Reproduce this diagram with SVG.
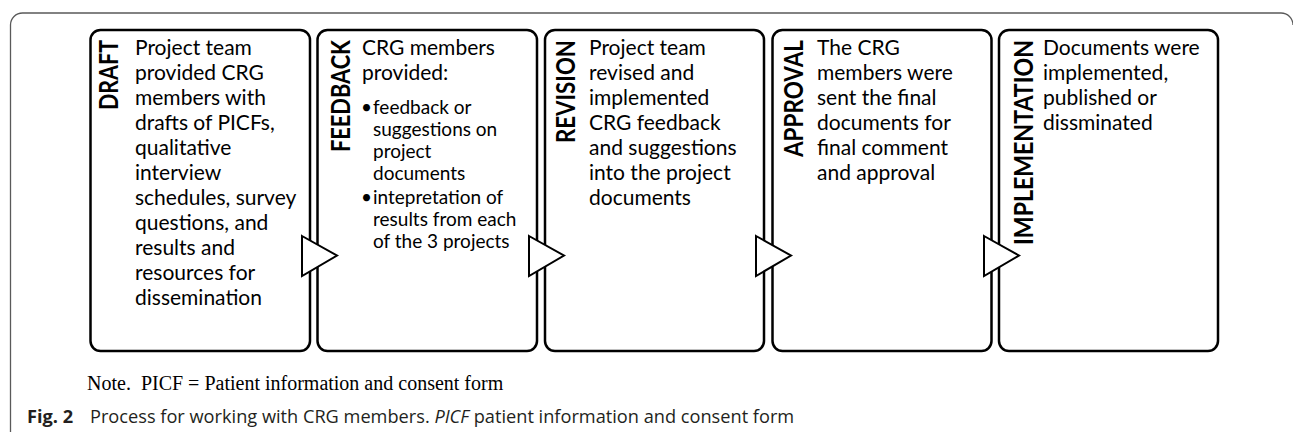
<svg xmlns="http://www.w3.org/2000/svg" width="1293" height="432" viewBox="0 0 1293 432">
  <style>
    .box { fill: #ffffff; stroke: #000000; stroke-width: 2.5; }
    .arrow { fill: #ffffff; stroke: #000000; stroke-width: 2; stroke-linejoin: miter; }
    .label { font-family: Lato, "Open Sans", sans-serif; font-weight: 700; font-size: 26px; fill: #000000; }
    .body { font-family: Lato, "Open Sans", sans-serif; font-size: 21px; fill: #000000; }
    .bullet { font-family: Lato, "Open Sans", sans-serif; font-size: 19px; fill: #000000; }
    .note { font-family: "Liberation Serif", serif; font-size: 20px; fill: #000000; }
    .caption { font-family: "Open Sans", "Liberation Sans", sans-serif; font-size: 18.2px; fill: #231f20; }
  </style>

  <!-- outer panel frame -->
  <path d="M10.5,432 V25 A12,12 0 0 1 22.5,13 H1281 A12,12 0 0 1 1293,25" fill="none" stroke="#5a5a5a" stroke-width="1.3"/>

  <!-- step boxes -->
  <g id="draft">
    <rect class="box" x="90.5" y="30" width="219.5" height="321" rx="10"/>
    <text class="label" transform="translate(118,40) rotate(-90)" text-anchor="end" textLength="70" lengthAdjust="spacingAndGlyphs">DRAFT</text>
    <text class="body">
      <tspan x="135" y="55">Project team</tspan>
      <tspan x="135" y="80">provided CRG</tspan>
      <tspan x="135" y="105">members with</tspan>
      <tspan x="135" y="130">drafts of PICFs,</tspan>
      <tspan x="135" y="155">qualitative</tspan>
      <tspan x="135" y="180">interview</tspan>
      <tspan x="135" y="205">schedules, survey</tspan>
      <tspan x="135" y="230">questions, and</tspan>
      <tspan x="135" y="255">results and</tspan>
      <tspan x="135" y="280">resources for</tspan>
      <tspan x="135" y="305">dissemination</tspan>
    </text>
  </g>

  <g id="feedback">
    <rect class="box" x="317.5" y="30" width="219.5" height="321" rx="10"/>
    <text class="label" transform="translate(350,40) rotate(-90)" text-anchor="end" textLength="112" lengthAdjust="spacingAndGlyphs">FEEDBACK</text>
    <text class="body">
      <tspan x="362" y="55">CRG members</tspan>
      <tspan x="362" y="80">provided:</tspan>
    </text>
    <text class="bullet">
      <tspan x="361" y="114">•</tspan><tspan x="373" y="114">feedback or</tspan>
      <tspan x="373" y="136">suggestions on</tspan>
      <tspan x="373" y="158">project</tspan>
      <tspan x="373" y="180">documents</tspan>
      <tspan x="361" y="204">•</tspan><tspan x="373" y="204">intepretation of</tspan>
      <tspan x="373" y="226">results from each</tspan>
      <tspan x="373" y="248">of the 3 projects</tspan>
    </text>
  </g>

  <g id="revision">
    <rect class="box" x="545" y="30" width="219" height="321" rx="10"/>
    <text class="label" transform="translate(575,40) rotate(-90)" text-anchor="end" textLength="103" lengthAdjust="spacingAndGlyphs">REVISION</text>
    <text class="body">
      <tspan x="589" y="55">Project team</tspan>
      <tspan x="589" y="80">revised and</tspan>
      <tspan x="589" y="105">implemented</tspan>
      <tspan x="589" y="130">CRG feedback</tspan>
      <tspan x="589" y="155">and suggestions</tspan>
      <tspan x="589" y="180">into the project</tspan>
      <tspan x="589" y="205">documents</tspan>
    </text>
  </g>

  <g id="approval">
    <rect class="box" x="772.5" y="30" width="219" height="321" rx="10"/>
    <text class="label" transform="translate(803,40) rotate(-90)" text-anchor="end" textLength="117" lengthAdjust="spacingAndGlyphs">APPROVAL</text>
    <text class="body">
      <tspan x="817" y="55">The CRG</tspan>
      <tspan x="817" y="80">members were</tspan>
      <tspan x="817" y="105">sent the final</tspan>
      <tspan x="817" y="130">documents for</tspan>
      <tspan x="817" y="155">final comment</tspan>
      <tspan x="817" y="180">and approval</tspan>
    </text>
  </g>

  <g id="implementation">
    <rect class="box" x="999" y="30" width="219" height="321" rx="10"/>
    <text class="label" transform="translate(1032.5,40) rotate(-90)" text-anchor="end" textLength="205" lengthAdjust="spacingAndGlyphs">IMPLEMENTATION</text>
    <text class="body">
      <tspan x="1043" y="55">Documents were</tspan>
      <tspan x="1043" y="80">implemented,</tspan>
      <tspan x="1043" y="105">published or</tspan>
      <tspan x="1043" y="130">dissminated</tspan>
    </text>
  </g>

  <!-- chevron connectors between steps -->
  <g id="connectors">
    <polygon class="arrow" points="302,236 337,255.5 302,276"/>
    <polygon class="arrow" points="529,236 564,255.5 529,276"/>
    <polygon class="arrow" points="756,236 791,255.5 756,276"/>
    <polygon class="arrow" points="984,236 1019,255.5 984,276"/>
  </g>

  <!-- notes -->
  <text class="note" x="87" y="390" xml:space="preserve">Note.  PICF = Patient information and consent form</text>
  <text class="caption" x="27" y="423"><tspan font-weight="700">Fig. 2</tspan><tspan x="90">Process for working with CRG members. </tspan><tspan font-style="italic">PICF</tspan><tspan> patient information and consent form</tspan></text>
</svg>
